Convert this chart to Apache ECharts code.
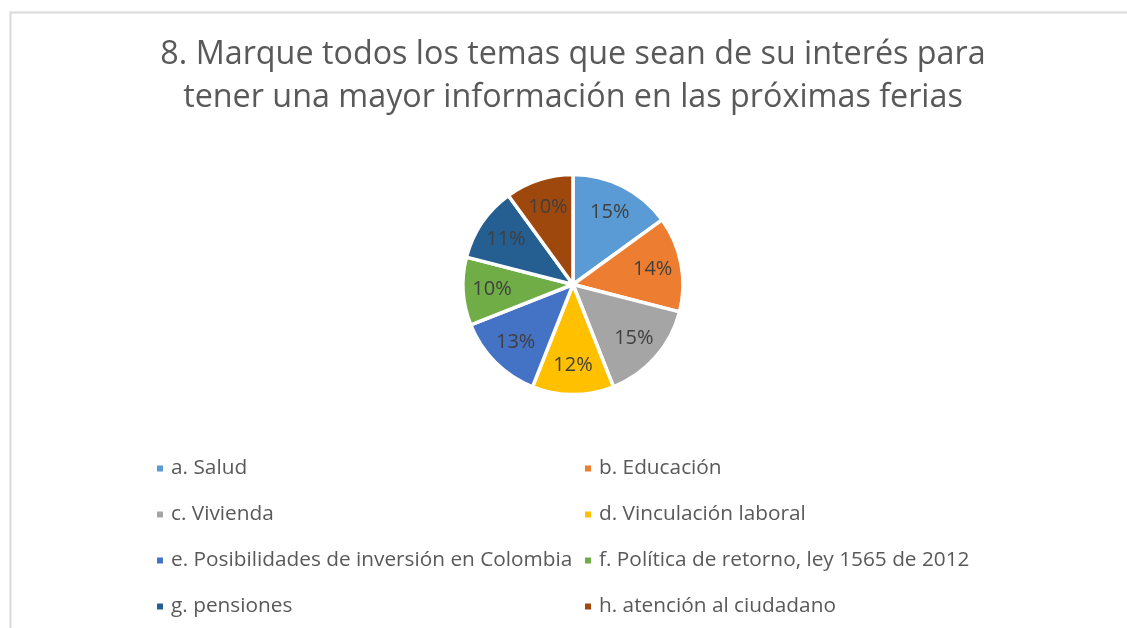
<!DOCTYPE html>
<html>
<head>
<meta charset="utf-8">
<script src="https://cdn.jsdelivr.net/npm/echarts@6/dist/echarts.min.js"></script>
<style>
html,body{margin:0;padding:0;background:#fff;}
#chart{width:1127px;height:628px;}
</style>
</head>
<body>
<div id="chart"></div>
<script>
const titleText = '8. Marque todos los temas que sean de su interés para\ntener una mayor información en las próximas ferias';
const categories = ['a. Salud','b. Educación','c. Vivienda','d. Vinculación laboral','e. Posibilidades de inversión en Colombia','f. Política de retorno, ley 1565 de 2012','g. pensiones','h. atención al ciudadano'];
const percentages = [15, 14, 15, 12, 13, 10, 11, 10];
const colors = ['#5B9BD5','#ED7D31','#A5A5A5','#FFC000','#4472C4','#70AD47','#255E91','#9E480E'];
const legendLeft = [categories[0], categories[2], categories[4], categories[6]];
const legendRight = [categories[1], categories[3], categories[5], categories[7]];

const pieData = categories.map((c, i) => ({name: c, value: percentages[i]}));
const FONT = 'Open Sans';
const R = 110;
const center = [573, 284.5];

const chart = echarts.init(document.getElementById('chart'), null, {renderer: 'canvas'});
const legendCommon = {
  orient: 'vertical',
  top: 458,
  padding: 0,
  itemWidth: 8,
  itemHeight: 8,
  icon: 'rect',
  itemGap: 25,
  selectedMode: false,
  textStyle: {fontFamily: FONT, fontSize: 20.8, color: '#595959', lineHeight: 20, padding: [0,0,0,2]}
};
chart.setOption({
  animation: false,
  color: colors,
  graphic: [{
    type: 'rect', left: 8, top: 10, silent: true,
    shape: {x: 0, y: 0, width: 1140, height: 640},
    style: {fill: 'none', stroke: '#D9D9D9', lineWidth: 2}
  }],
  title: {
    text: titleText,
    left: 573,
    textAlign: 'center',
    top: 33,
    padding: 0,
    textStyle: {fontFamily: FONT, fontSize: 32.3, fontWeight: 'normal', color: '#595959', lineHeight: 43}
  },
  legend: [
    Object.assign({left: 155, data: legendLeft}, legendCommon),
    Object.assign({left: 583, data: legendRight}, legendCommon)
  ],
  series: [
    {
      type: 'pie',
      center: center,
      radius: R,
      startAngle: 90,
      clockwise: true,
      data: pieData,
      label: {show: false},
      labelLine: {show: false},
      itemStyle: {borderColor: '#fff', borderWidth: 3.5},
      emphasis: {disabled: true}
    },
    {
      type: 'pie',
      center: center,
      radius: [R * 0.42, R],
      startAngle: 90,
      clockwise: true,
      silent: true,
      data: pieData,
      itemStyle: {color: 'rgba(0,0,0,0)', borderWidth: 0},
      label: {show: true, position: 'inside', formatter: p => p.value + '%', fontFamily: FONT, fontSize: 20, color: '#404040'},
      labelLine: {show: false},
      emphasis: {disabled: true}
    }
  ]
});
</script>
</body>
</html>
